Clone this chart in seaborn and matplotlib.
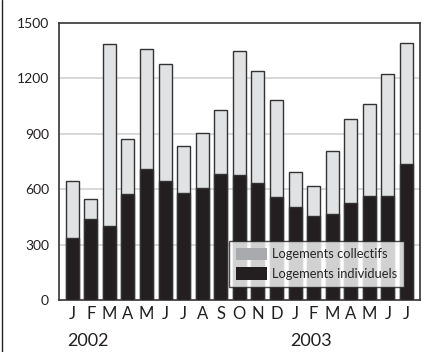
import matplotlib
matplotlib.use("Agg")
import matplotlib.pyplot as plt
import matplotlib.transforms as mtransforms
from matplotlib.patches import Patch
from matplotlib.lines import Line2D
import numpy as np
import pandas as pd
import seaborn as sns

months = ["J", "F", "M", "A", "M", "J", "J", "A", "S", "O", "N", "D",
          "J", "F", "M", "A", "M", "J", "J"]
total = [644, 547, 1388, 870, 1359, 1280, 832, 904, 1027, 1348, 1240, 1081,
         695, 615, 809, 982, 1063, 1224, 1391]
individuels = [336, 439, 402, 576, 709, 644, 579, 605, 684, 677, 632, 559,
               505, 457, 464, 523, 565, 565, 736]
years = ["2002", "2003"]
year_start = [0, 12]

c_coll = "#e1e2e4"
c_coll_leg = "#a9aaad"
c_ind = "#231f20"
edge = "#333333"

sns.set_theme(style="white")
plt.rcParams["font.family"] = ["Lato", "DejaVu Sans"]

df = pd.DataFrame({"idx": np.arange(len(months)), "total": total, "ind": individuels})

fig = plt.figure(figsize=(4.35, 3.52), dpi=100)
ax = fig.add_axes([58.7 / 435, 52 / 352, 361.3 / 435, 277 / 352])

for v in [300, 600, 900, 1200]:
    ax.axhline(v, color="#d2d2d2", lw=1.2, zorder=0)

sns.barplot(data=df, x="idx", y="total", color=c_coll, saturation=1, width=0.7,
            edgecolor=edge, linewidth=1.0, ax=ax, zorder=2)
sns.barplot(data=df, x="idx", y="ind", color=c_ind, saturation=1, width=0.7,
            edgecolor=edge, linewidth=1.0, ax=ax, zorder=3)

ax.set_xlim(-0.727, len(months) - 1 + 0.727)
ax.set_ylim(0, 1500)
ax.set_yticks([0, 300, 600, 900, 1200, 1500])
ax.set_yticklabels(["0", "300", "600", "900", "1200", "1500"], fontsize=10)
ax.set_xticks(np.arange(len(months)))
ax.set_xticklabels(months, fontsize=12)
ax.tick_params(axis="both", length=0, colors="#231f20")
ax.tick_params(axis="y", pad=7)
ax.tick_params(axis="x", pad=4)
ax.set_xlabel("")
ax.set_ylabel("")
for s in ax.spines.values():
    s.set_color(edge)
    s.set_linewidth(1.2)

trans = mtransforms.blended_transform_factory(ax.transData, fig.transFigure)
for y, s in zip(years, year_start):
    ax.text(s + 0.86, 1 - 341.5 / 352, y, transform=trans, ha="center", va="center",
            fontsize=13, color="#231f20")

handles = [Patch(facecolor=c_coll_leg, edgecolor="none", label="Logements collectifs"),
           Patch(facecolor=c_ind, edgecolor="none", label="Logements individuels")]
leg = ax.legend(handles=handles, loc="lower right", bbox_to_anchor=(0.956, 0.048),
                frameon=True, fancybox=False, fontsize=9.3, handlelength=2.4,
                handleheight=1.15, handletextpad=0.45, borderpad=0.5, labelspacing=0.55,
                borderaxespad=0)
leg.get_frame().set_edgecolor("#231f20")
leg.get_frame().set_linewidth(1.0)
leg.set_zorder(5)

fig.add_artist(Line2D([2.5 / 435, 2.5 / 435], [0, 1], transform=fig.transFigure,
                      color="#231f20", lw=1.0))

fig.savefig("out.png", dpi=100)
